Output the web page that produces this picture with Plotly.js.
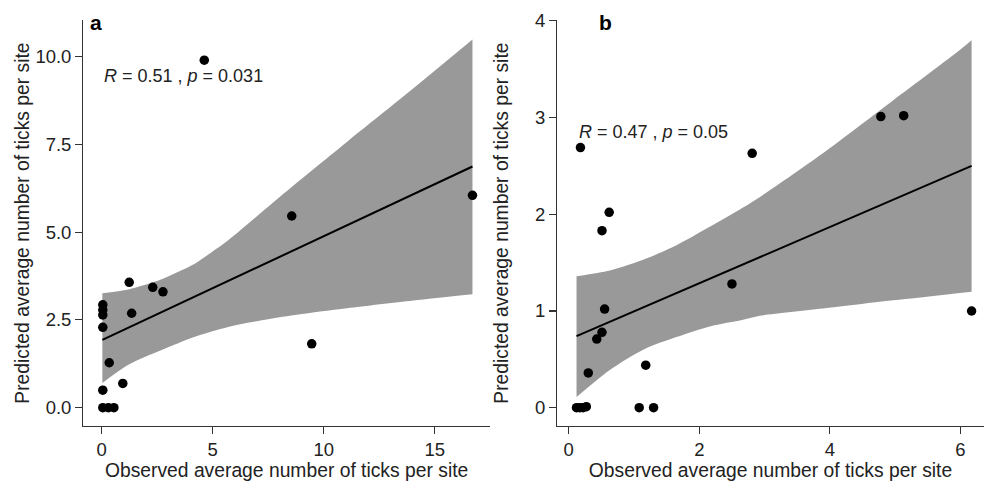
<!DOCTYPE html>
<html>
<head>
<meta charset="utf-8">
<script src="https://cdn.plot.ly/plotly-3.0.1.min.js"></script>
<style>html,body{margin:0;padding:0;background:#fff;}#chart{width:984px;height:481px;}</style>
</head>
<body>
<div id="chart"></div>
<script>
// ---- Panel a data ----
var obsA  = [4.62, 8.56, 16.7, 9.46, 1.24, 2.30, 2.76, 1.35, 0.05, 0.05, 0.05, 0.05, 0.34, 0.95, 0.05, 0.05, 0.30, 0.55];
var predA = [9.90, 5.46, 6.05, 1.82, 3.57, 3.43, 3.30, 2.69, 2.93, 2.78, 2.64, 2.29, 1.28, 0.69, 0.50, 0.00, 0.00, 0.00];
var fitXA = [0.03, 16.7];
var fitYA = [1.93, 6.87];
var ciUpXA = [0.03, 1.20, 2.70, 3.45, 4.21, 4.95, 5.70, 8.03, 11.0, 14.0, 16.7];
var ciUpYA = [3.26, 3.37, 3.66, 3.87, 4.11, 4.43, 4.77, 6.01, 7.55, 9.08, 10.49];
var ciLoXA = [0.03, 1.20, 2.70, 4.20, 5.70, 7.21, 8.71, 11.04, 14.04, 16.7];
var ciLoYA = [0.70, 1.22, 1.64, 2.02, 2.30, 2.49, 2.64, 2.83, 3.05, 3.23];
var ticksXA = [0, 5, 10, 15];
var ticksYA = [0, 2.5, 5, 7.5, 10];

// ---- Panel b data ----
var obsB  = [0.18, 2.81, 4.78, 5.13, 6.17, 2.50, 0.62, 0.51, 0.55, 0.51, 0.43, 0.30, 1.18, 1.08, 1.30, 0.12, 0.17, 0.22, 0.27];
var predB = [2.69, 2.63, 3.01, 3.02, 1.00, 1.28, 2.02, 1.83, 1.02, 0.78, 0.71, 0.36, 0.44, 0.00, 0.00, 0.00, 0.00, 0.00, 0.01];
var fitXB = [0.12, 6.17];
var fitYB = [0.74, 2.50];
var ciUpXB = [0.12, 0.63, 1.14, 1.65, 2.16, 2.67, 2.93, 3.95, 4.97, 5.99, 6.17];
var ciUpYB = [1.36, 1.42, 1.53, 1.68, 1.87, 2.07, 2.18, 2.66, 3.18, 3.70, 3.80];
var ciLoXB = [0.12, 0.63, 1.14, 1.65, 2.16, 2.67, 2.93, 3.95, 4.97, 6.17];
var ciLoYB = [0.11, 0.39, 0.60, 0.73, 0.84, 0.91, 0.95, 1.03, 1.11, 1.20];
var ticksXB = [0, 2, 4, 6];
var ticksYB = [0, 1, 2, 3, 4];

var xTitle = "Observed average number of ticks per site";
var yTitle = "Predicted average number of ticks per site";
var statA = "<i>R</i> = 0.51 , <i>p</i> = 0.031";
var statB = "<i>R</i> = 0.47 , <i>p</i> = 0.05";

var FONT = "Liberation Sans, Arial, sans-serif";
var TXT = "#222222";
var BAND = "#999999";

function bandTraces(lx, ly, ux, uy, xa, ya) {
  return [
    {x: lx, y: ly, xaxis: xa, yaxis: ya, type: "scatter", mode: "lines",
     line: {width: 0, color: BAND, shape: "spline", smoothing: 0.8}, hoverinfo: "skip", showlegend: false},
    {x: ux, y: uy, xaxis: xa, yaxis: ya, type: "scatter", mode: "lines", fill: "tonexty", fillcolor: BAND,
     line: {width: 0, color: BAND, shape: "spline", smoothing: 0.8}, hoverinfo: "skip", showlegend: false}
  ];
}

var traces = []
  .concat(bandTraces(ciLoXA, ciLoYA, ciUpXA, ciUpYA, "x", "y"))
  .concat([
    {x: fitXA, y: fitYA, xaxis: "x", yaxis: "y", type: "scatter", mode: "lines",
     line: {color: "#000000", width: 2}, showlegend: false},
    {x: obsA, y: predA, xaxis: "x", yaxis: "y", type: "scatter", mode: "markers",
     marker: {color: "#000000", size: 9.5}, showlegend: false}
  ])
  .concat(bandTraces(ciLoXB, ciLoYB, ciUpXB, ciUpYB, "x2", "y2"))
  .concat([
    {x: fitXB, y: fitYB, xaxis: "x2", yaxis: "y2", type: "scatter", mode: "lines",
     line: {color: "#000000", width: 2}, showlegend: false},
    {x: obsB, y: predB, xaxis: "x2", yaxis: "y2", type: "scatter", mode: "markers",
     marker: {color: "#000000", size: 9.5}, showlegend: false}
  ]);

function axis(extra) {
  var base = {
    showgrid: false, zeroline: false, showline: true, linecolor: "#333333", linewidth: 1.1,
    ticks: "outside", ticklen: 7, tickwidth: 1.1, tickcolor: "#333333",
    tickfont: {family: FONT, size: 18.5, color: TXT},
    automargin: false, fixedrange: true
  };
  for (var k in extra) base[k] = extra[k];
  return base;
}
var titleFont = {family: FONT, size: 19.3, color: TXT};

var layout = {
  width: 984, height: 481,
  margin: {l: 0, r: 0, t: 0, b: 0},
  paper_bgcolor: "#ffffff", plot_bgcolor: "#ffffff",
  font: {family: FONT, color: TXT},
  showlegend: false,
  xaxis: axis({domain: [0.08455, 0.49797], range: [-0.833, 17.49], tickvals: ticksXA,
    ticktext: ticksXA.map(String), anchor: "y", title: {text: xTitle, font: titleFont}}),
  yaxis: axis({domain: [0.115, 0.9574], range: [-0.513, 11.03], tickvals: ticksYA,
    ticktext: ticksYA.map(function(v){return v.toFixed(1);}), anchor: "x",
    title: {text: yTitle, font: titleFont}}),
  xaxis2: axis({domain: [0.56606, 1], range: [-0.179, 6.36], tickvals: ticksXB,
    ticktext: ticksXB.map(String), anchor: "y2", title: {text: xTitle, font: titleFont}}),
  yaxis2: axis({domain: [0.115, 0.9574], range: [-0.186, 4.004], tickvals: ticksYB,
    ticktext: ticksYB.map(String), anchor: "x2", title: {text: yTitle, font: titleFont}}),
  annotations: [
    {xref: "x", yref: "y", x: 0.0, y: 9.45, xanchor: "left", yanchor: "middle", showarrow: false,
     text: statA, font: {family: FONT, size: 18, color: TXT}},
    {xref: "x2", yref: "y2", x: 0.12, y: 2.85, xanchor: "left", yanchor: "middle", showarrow: false,
     text: statB, font: {family: FONT, size: 18, color: TXT}},
    {xref: "paper", yref: "paper", x: 88 / 984, y: 1 - 22 / 481, xanchor: "left", yanchor: "middle",
     showarrow: false, text: "<b>a</b>", font: {family: FONT, size: 21, color: "#000000"}},
    {xref: "paper", yref: "paper", x: 597 / 984, y: 1 - 22 / 481, xanchor: "left", yanchor: "middle",
     showarrow: false, text: "<b>b</b>", font: {family: FONT, size: 21, color: "#000000"}}
  ]
};

Plotly.newPlot("chart", traces, layout, {displayModeBar: false, staticPlot: true});
</script>
</body>
</html>
